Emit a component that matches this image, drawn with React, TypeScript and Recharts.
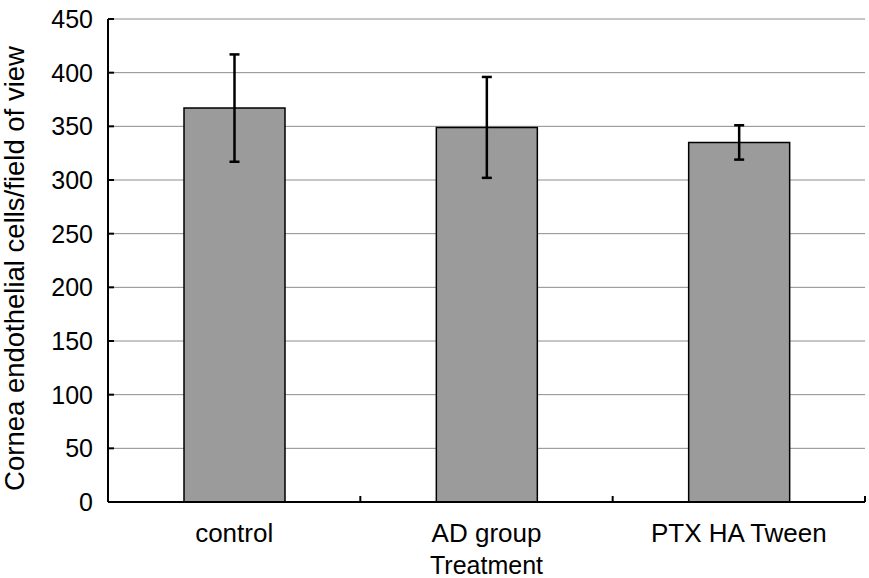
import { Bar, BarChart, CartesianGrid, ErrorBar, XAxis, YAxis } from "recharts";

const categories = ["control", "AD group", "PTX HA Tween"];
const cellCounts = [367, 349, 335];
const cellErrors = [50, 47, 16];
const yTicks = [0, 50, 100, 150, 200, 250, 300, 350, 400, 450];

const data = categories.map((name, i) => ({ name, value: cellCounts[i], err: cellErrors[i] }));

const FONT = "'Liberation Sans', Arial, sans-serif";

if (typeof document !== "undefined") document.body.style.margin = "0";

function YTick(props: any) {
  const { x, y, payload } = props;
  const axisX = x + 15;
  return (
    <g>
      <line x1={axisX} x2={axisX + 6} y1={y} y2={y} stroke="#000" strokeWidth={2} />
      <text x={x} y={y} textAnchor="end" dominantBaseline="central" fontSize={25} fontFamily={FONT} fill="#000">
        {payload.value}
      </text>
    </g>
  );
}

function XTick(props: any) {
  const { x, y, payload } = props;
  const half = payload.offset ?? 0;
  const edge = x + half;
  return (
    <g>
      <line x1={edge} x2={edge} y1={y} y2={y - 6} stroke="#000" strokeWidth={2} />
      <text x={x} y={y + 40} textAnchor="middle" fontSize={26} fontFamily={FONT} fill="#000">
        {payload.value}
      </text>
    </g>
  );
}

export default function App() {
  return (
    <div style={{ width: 869, height: 578, background: "#fff" }}>
      <BarChart width={869} height={578} data={data} margin={{ top: 19, right: 4, bottom: 0, left: 0 }}>
        <CartesianGrid vertical={false} stroke="#8c8c8c" strokeWidth={1} />
        <XAxis
          dataKey="name"
          height={76}
          tickLine={false}
          tickSize={0}
          tickMargin={0}
          axisLine={{ stroke: "#000", strokeWidth: 2 }}
          tick={<XTick />}
          interval={0}
          label={{
            value: "Treatment",
            position: "insideBottom",
            offset: 4,
            fontSize: 25,
            fontFamily: FONT,
            fill: "#000",
          }}
        />
        <YAxis
          width={108}
          domain={[0, 450]}
          ticks={yTicks}
          interval={0}
          tickLine={false}
          tickSize={0}
          tickMargin={15}
          axisLine={{ stroke: "#000", strokeWidth: 2 }}
          tick={<YTick />}
          label={{
            value: "Cornea endothelial cells/field of view",
            angle: -90,
            position: "insideLeft",
            offset: 0,
            dx: 14,
            dy: 8,
            fontSize: 27.5,
            fontFamily: FONT,
            fill: "#000",
            style: { textAnchor: "middle" },
          }}
        />
        <Bar dataKey="value" barSize={101} fill="#9b9b9b" stroke="#000" strokeWidth={1.5} isAnimationActive={false}>
          <ErrorBar dataKey="err" width={5} stroke="#000" strokeWidth={2.5} isAnimationActive={false} />
        </Bar>
      </BarChart>
    </div>
  );
}
